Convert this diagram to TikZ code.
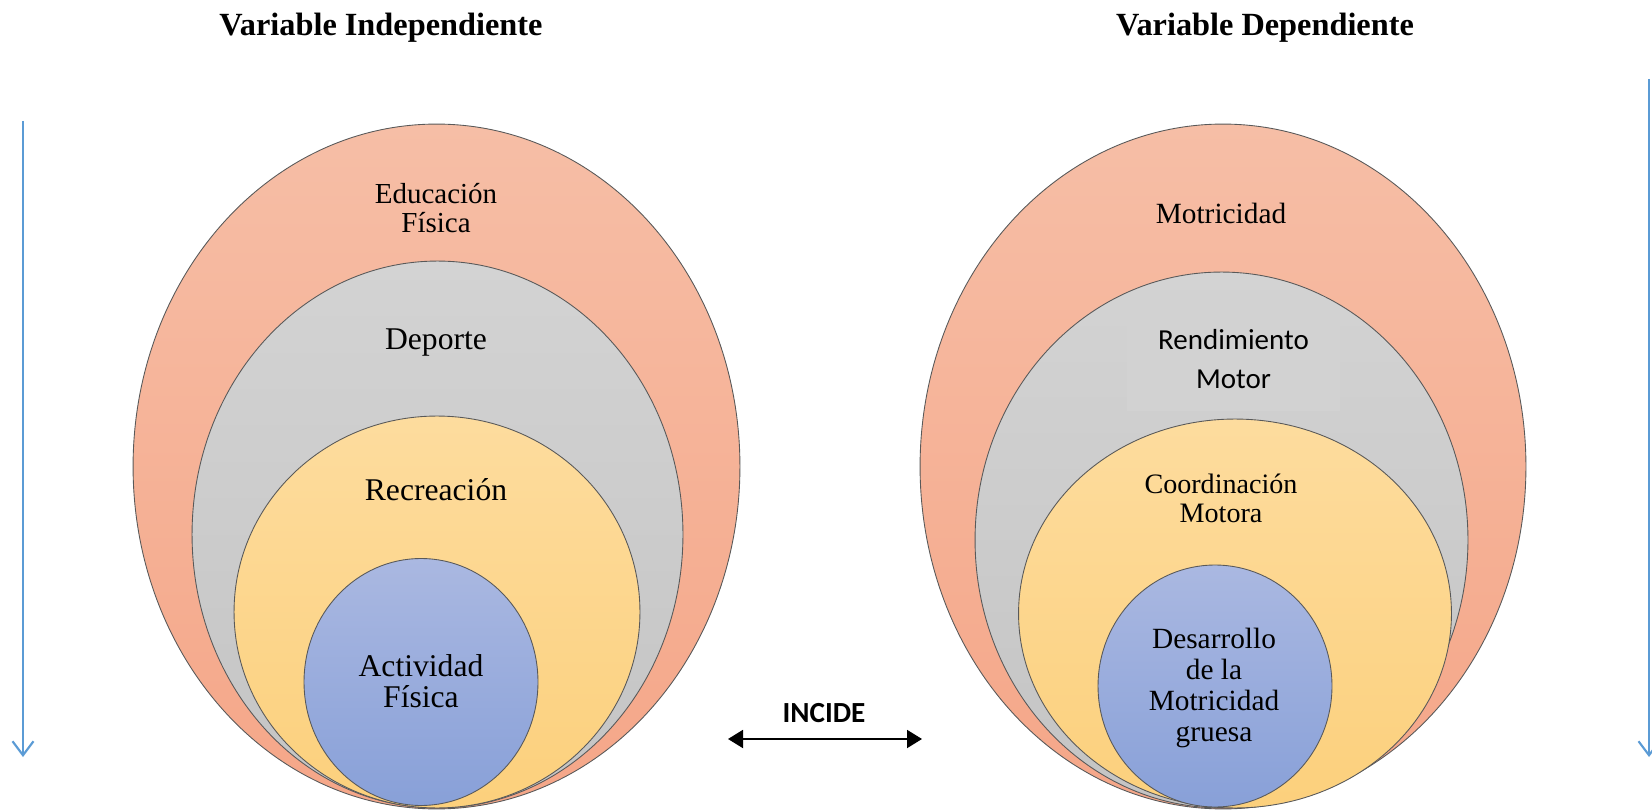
\documentclass[tikz,border=0pt]{standalone}
\usepackage{fontspec}
\setmainfont{Liberation Serif}
\newfontfamily\calibri{Carlito}
\usetikzlibrary{shapes.geometric,arrows.meta}

\definecolor{salmontop}{RGB}{246,190,166}
\definecolor{salmonbot}{RGB}{245,166,136}
\definecolor{greytop}{RGB}{211,211,211}
\definecolor{greybot}{RGB}{196,196,196}
\definecolor{sandtop}{RGB}{253,220,158}
\definecolor{sandbot}{RGB}{252,208,124}
\definecolor{bluetop}{RGB}{170,184,225}
\definecolor{bluebot}{RGB}{136,160,216}
\definecolor{boxgrey}{RGB}{210,210,210}
\definecolor{officeblue}{RGB}{91,155,213}

\begin{document}
\begin{tikzpicture}[x=0.02cm,y=-0.02cm]

%
% Styles
%
\tikzstyle{layer}  = [ellipse,draw=black!65,line width=0.5pt,inner sep=0pt,shading=axis]
\tikzstyle{outer}  = [layer,top color=salmontop,bottom color=salmonbot]
\tikzstyle{middle} = [layer,top color=greytop,bottom color=greybot]
\tikzstyle{inner}  = [layer,top color=sandtop,bottom color=sandbot]
\tikzstyle{core}   = [layer,top color=bluetop,bottom color=bluebot]
\tikzstyle{title}  = [font=\bfseries\fontsize{18.4}{20}\selectfont]
\tikzstyle{lbl}    = [align=center,inner sep=0pt]

\tikzstyle{flow}   = [-{Straight Barb[length=0.28cm,width=0.42cm]},draw=officeblue,line width=1.2pt]
\tikzstyle{edge}   = [{Triangle[length=0.3cm,width=0.36cm]}-{Triangle[length=0.3cm,width=0.36cm]},line width=1.1pt]

\useasboundingbox (0,0) rectangle (1652,810);

% left side
\node[outer,  minimum width=12.14cm, minimum height=13.7cm]  (lo) at (436.5,466.5) {};
\node[middle, minimum width=9.82cm,  minimum height=10.94cm] (lm) at (437.5,534.5) {};
\node[inner,  minimum width=8.12cm,  minimum height=7.84cm]  (li) at (437,612)     {};
\node[core,   minimum width=4.68cm,  minimum height=4.94cm]  (lc) at (421,682)     {};

% right side
\node[outer,  minimum width=12.12cm, minimum height=13.7cm]  (ro) at (1223,466.5)  {};
\node[middle, minimum width=9.86cm,  minimum height=10.72cm] (rm) at (1221.5,540)  {};
\node[inner,  minimum width=8.66cm,  minimum height=7.78cm]  (ri) at (1235,613.5)  {};
\node[core,   minimum width=4.68cm,  minimum height=4.84cm]  (rc) at (1215,686)    {};

% titles
\node[title] (tl) at (381,28)  {Variable Independiente};
\node[title] (tr) at (1265,28) {Variable Dependiente};

% labels
\node[lbl,font=\fontsize{16.5}{16.5}\selectfont] (edu) at (436,208) {Educación\\Física};
\node[lbl,font=\fontsize{18}{18}\selectfont]     (dep) at (436,343) {Deporte};
\node[lbl,font=\fontsize{18}{18}\selectfont]     (rec) at (436,490) {Recreación};
\node[lbl,font=\fontsize{18}{17.6}\selectfont]   (act) at (421,681) {Actividad\\Física};

\node[lbl,font=\fontsize{16.7}{16.7}\selectfont] (mot) at (1221,213) {Motricidad};
\node[lbl,fill=boxgrey,minimum width=4.26cm,minimum height=2.08cm,
      font=\calibri\fontsize{16.5}{22.7}\selectfont] (ren) at (1233.5,359) {Rendimiento\\Motor};
\node[lbl,font=\fontsize{16}{16.5}\selectfont]   (coo) at (1221,498) {Coordinación\\Motora};
\node[lbl,font=\fontsize{16.7}{17.6}\selectfont] (des) at (1214,688) {Desarrollo\\de la\\Motricidad\\gruesa};

% incide
\node[font=\calibri\bfseries\fontsize{16.6}{18}\selectfont] (inc) at (824,713) {INCIDE};
\coordinate (incl) at (728,739);
\coordinate (incr) at (922,739);
\draw[edge] (incl) -- (incr);

% side arrows
\coordinate (ltop) at (23,121);
\coordinate (lbot) at (23,757);
\coordinate (rtop) at (1649,79);
\coordinate (rbot) at (1649,757);
\draw[flow] (ltop) -- (lbot);
\draw[flow] (rtop) -- (rbot);

\end{tikzpicture}
\end{document}
